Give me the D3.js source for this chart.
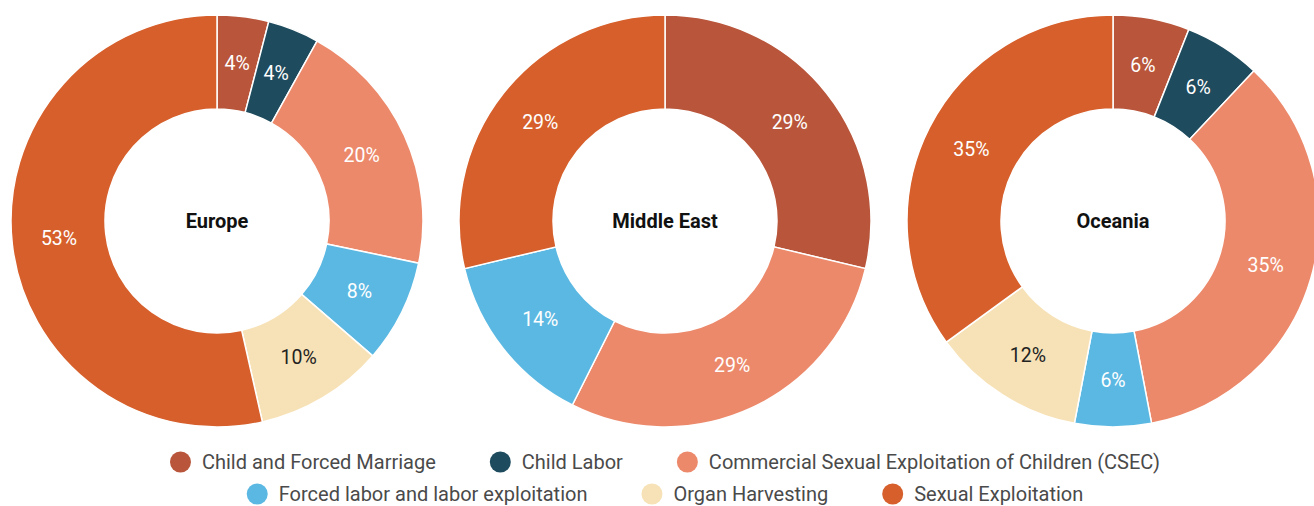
<!DOCTYPE html>
<html>
<head>
<meta charset="utf-8">
<script src="https://cdn.jsdelivr.net/npm/d3@7"></script>
<style>
  body { margin: 0; background: #fff; }
  svg { display: block; font-family: Roboto, "Noto Sans", sans-serif; }
</style>
</head>
<body>
<div id="chart"></div>
<script>
// categories (legend order = slice order, clockwise from 12 o'clock)
var categories = [
	'Child and Forced Marriage',
	'Child Labor',
	'Commercial Sexual Exploitation of Children (CSEC)',
	'Forced labor and labor exploitation',
	'Organ Harvesting',
	'Sexual Exploitation'
];
var colors = ['#b8553a', '#1e4b5d', '#ec896b', '#5bb8e2', '#f7e2b7', '#d65f2b'];

var regions = ['Europe', 'Middle East', 'Oceania'];

// shares in percent, as printed on the slices
var europe     = [4, 4, 20, 8, 10, 53];
var middleEast = [29, 0, 29, 14, 0, 29];
var oceania    = [6, 6, 35, 6, 12, 35];

var series = [europe, middleEast, oceania];

var width = 1314, height = 506;
var centersX = [217, 665, 1113], centerY = 221;
var outerR = 206, innerR = 112;

var svg = d3.select('#chart').append('svg')
	.attr('width', width)
	.attr('height', height);

var color = d3.scaleOrdinal().domain(categories).range(colors);

var pie = d3.pie().sort(null).value(function(d) { return d.value; });
var arc = d3.arc().innerRadius(innerR).outerRadius(outerR);
var labelArc = d3.arc().innerRadius(159).outerRadius(159);

series.forEach(function(values, k) {
	var data = categories.map(function(c, i) { return {cat: c, value: values[i]}; });
	var g = svg.append('g')
		.attr('transform', 'translate(' + centersX[k] + ',' + centerY + ')');

	var slices = pie(data).filter(function(d) { return d.data.value > 0; });

	g.selectAll('path')
		.data(slices)
		.enter().append('path')
		.attr('d', arc)
		.attr('fill', function(d) { return color(d.data.cat); })
		.attr('stroke', '#fff')
		.attr('stroke-width', 1.5);

	g.selectAll('text.val')
		.data(slices)
		.enter().append('text')
		.attr('class', 'val')
		.attr('transform', function(d) { return 'translate(' + labelArc.centroid(d) + ')'; })
		.attr('text-anchor', 'middle')
		.attr('dy', '0.35em')
		.style('font-size', '19.5px')
		.attr('fill', function(d) { return d.data.cat === 'Organ Harvesting' ? '#222' : '#fff'; })
		.text(function(d) { return d.data.value + '%'; });

	g.append('text')
		.attr('text-anchor', 'middle')
		.attr('dy', '0.35em')
		.style('font-size', '20px')
		.style('font-weight', 'bold')
		.attr('fill', '#111')
		.text(regions[k]);
});

// legend, two centred rows
var rows = [categories.slice(0, 3), categories.slice(3)];
var rowY = [462, 494];
var legendCx = 665, dotR = 10.5, dotGap = 11, itemGap = 54;

rows.forEach(function(items, r) {
	var row = svg.append('g');
	var x = 0;
	items.forEach(function(c) {
		var it = row.append('g').attr('transform', 'translate(' + x + ',0)');
		it.append('circle')
			.attr('cx', dotR)
			.attr('cy', 0)
			.attr('r', dotR)
			.attr('fill', color(c));
		var t = it.append('text')
			.attr('x', dotR * 2 + dotGap)
			.attr('dy', '0.35em')
			.style('font-size', '20px')
			.attr('fill', '#4a4a4a')
			.text(c);
		x += dotR * 2 + dotGap + t.node().getComputedTextLength() + itemGap;
	});
	var total = x - itemGap;
	row.attr('transform', 'translate(' + (legendCx - total / 2) + ',' + rowY[r] + ')');
});
</script>
</body>
</html>
